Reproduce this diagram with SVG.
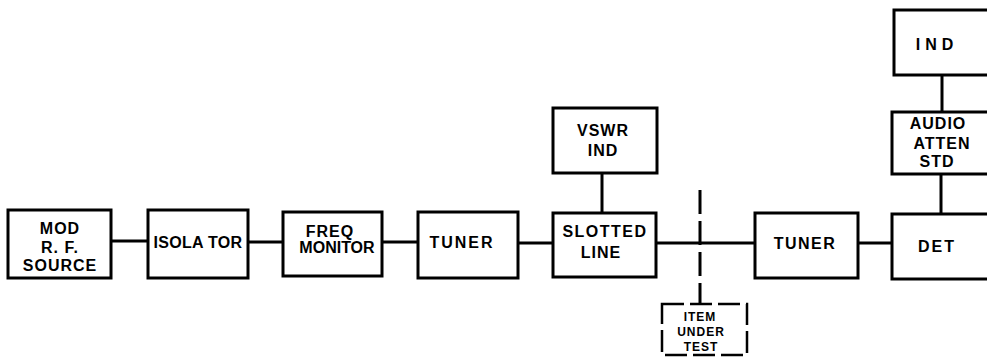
<svg xmlns="http://www.w3.org/2000/svg" width="987" height="360" viewBox="0 0 987 360">
<style>
.box{fill:#fff;stroke:#000;stroke-width:3}
.dbox{fill:#fff;stroke:#000;stroke-width:2.5;stroke-dasharray:22 6}
.ln{stroke:#000;stroke-width:3;fill:none}
.dl{stroke:#000;stroke-width:3;fill:none;stroke-dasharray:24 7}
text{font-family:"Liberation Sans",Arial,sans-serif;font-weight:bold;font-size:16px;text-anchor:middle;fill:#000;letter-spacing:1px}
.sm{font-size:12px;letter-spacing:1px}
</style>
<rect width="987" height="360" fill="#fff"/>
<g id="connectors">
<line class="ln" x1="111" y1="241" x2="148" y2="241"/>
<line class="ln" x1="248" y1="242" x2="283" y2="242"/>
<line class="ln" x1="382" y1="242" x2="418" y2="242"/>
<line class="ln" x1="518" y1="243" x2="553" y2="243"/>
<line class="ln" x1="656" y1="243" x2="755" y2="243"/>
<line class="ln" x1="858" y1="243" x2="892" y2="243"/>
<line class="ln" x1="602" y1="173" x2="602" y2="213"/>
<line class="ln" x1="941" y1="174" x2="941" y2="214"/>
<line class="ln" x1="942" y1="75" x2="942" y2="112"/>
<line class="dl" x1="700" y1="190" x2="700" y2="304"/>
</g>
<g id="mod-rf-source"><rect class="box" x="8" y="210" width="103" height="68"/>
<text x="60" y="234">MOD</text><text x="60" y="253">R. F.</text><text x="60" y="271">SOURCE</text></g>
<g id="isolator"><rect class="box" x="148" y="210" width="100" height="68"/>
<text x="198" y="248" style="letter-spacing:0.3px">ISOLA TOR</text></g>
<g id="freq-monitor"><rect class="box" x="283" y="212" width="99" height="64"/>
<text x="330" y="237">FREQ</text><text x="337" y="253" style="letter-spacing:0px">MONITOR</text></g>
<g id="tuner1"><rect class="box" x="418" y="212" width="100" height="66"/>
<text x="462" y="248" style="letter-spacing:2px">TUNER</text></g>
<g id="vswr-ind"><rect class="box" x="553" y="108" width="104" height="65"/>
<text x="603" y="136">VSWR</text><text x="603" y="156">IND</text></g>
<g id="slotted-line"><rect class="box" x="553" y="213" width="103" height="64"/>
<text x="605" y="237" style="letter-spacing:1.5px">SLOTTED</text><text x="601" y="258">LINE</text></g>
<g id="item-under-test"><rect class="dbox" x="662" y="304" width="85" height="51"/>
<text class="sm" x="700" y="321">ITEM</text><text class="sm" x="701" y="336">UNDER</text><text class="sm" x="701" y="351">TEST</text></g>
<g id="tuner2"><rect class="box" x="755" y="213" width="103" height="65"/>
<text x="805" y="249" style="letter-spacing:1.5px">TUNER</text></g>
<g id="det"><rect class="box" x="892" y="214" width="100" height="65"/>
<text x="937" y="252" style="letter-spacing:2px">DET</text></g>
<g id="audio-atten-std"><rect class="box" x="892" y="112" width="100" height="62"/>
<text x="938" y="129">AUDIO</text><text x="942" y="149">ATTEN</text><text x="937" y="167">STD</text></g>
<g id="ind"><rect class="box" x="894" y="10" width="100" height="65"/>
<text x="937" y="50" style="letter-spacing:5px">IND</text></g>
</svg>
